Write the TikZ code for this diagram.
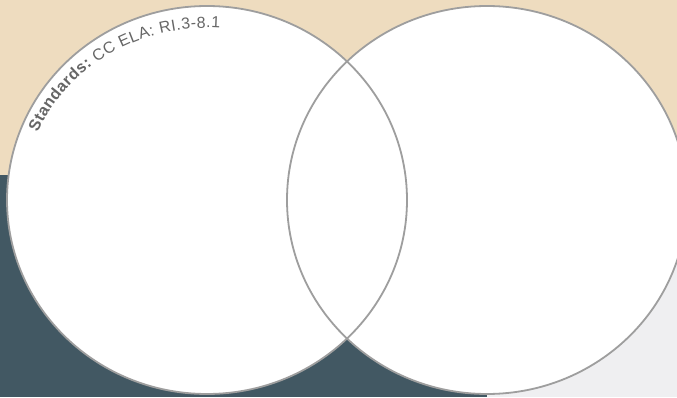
\documentclass[tikz,border=0pt]{standalone}
\usepackage{fontspec}
\newfontfamily\stdfont{Liberation Sans}
\usetikzlibrary{decorations.text}
\definecolor{sand}{HTML}{EEDCBF}
\definecolor{slate}{HTML}{425863}
\definecolor{mist}{HTML}{EFEFF1}
\definecolor{rim}{HTML}{9E9E9E}
\definecolor{ink}{HTML}{666666}
\tikzset{
  disc/.style={fill=white},
  ring/.style={draw=rim,line width=1.8pt},
}

\begin{document}
\begin{tikzpicture}[x=1pt,y=1pt]
\useasboundingbox (0,0) rectangle (677,397);
\fill[sand] (0,222) rectangle (677,397);
\fill[slate] (0,0) rectangle (487,222);
\fill[mist] (487,0) rectangle (677,222);
\coordinate (lft) at (207,197);
\coordinate (rgt) at (487,197);
\fill[disc] (lft) ellipse [x radius=200,y radius=194];
\fill[disc] (rgt) ellipse [x radius=200,y radius=194];
\draw[ring] (lft) ellipse [x radius=200,y radius=194];
\draw[ring] (rgt) ellipse [x radius=200,y radius=194];
\path[decorate,decoration={text along path,text color=ink,text align=fit to path,
  text={|\stdfont\fontsize{16}{19}\selectfont\bfseries|Standards:|\stdfont\fontsize{16}{19}\selectfont\mdseries| CC ELA: RI.3-8.1}}]
  (lft) ++(157:184 and 172) arc [start angle=157,end angle=86,x radius=184,y radius=172];
\end{tikzpicture}
\end{document}
